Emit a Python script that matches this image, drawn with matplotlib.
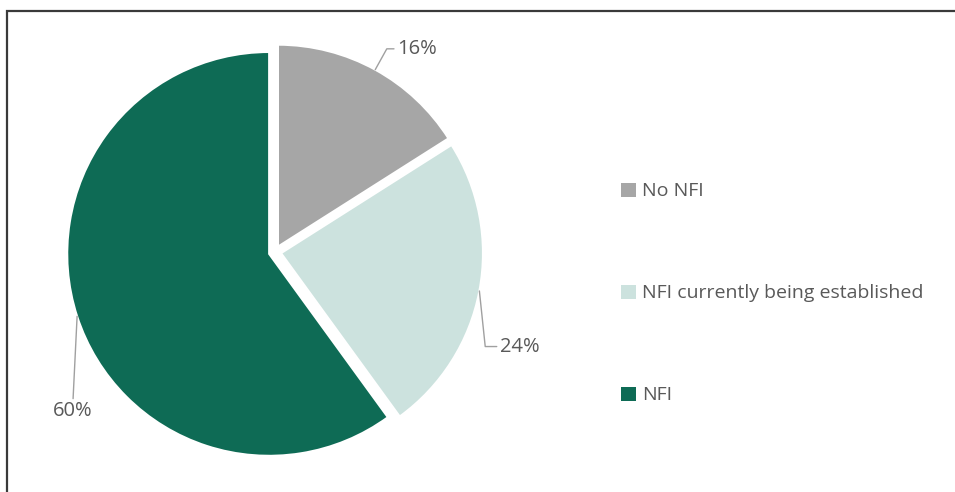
import numpy as np
import matplotlib
matplotlib.use('Agg')
import matplotlib.pyplot as plt
from matplotlib.patches import Rectangle

# Dados
categorias = ['No NFI', 'NFI currently being established', 'NFI']
valores = [16, 24, 60]
rotulos = ['16%', '24%', '60%']
cores = ['#a6a6a6', '#cce2de', '#0e6b55']

plt.rcParams['font.family'] = ['Open Sans', 'DejaVu Sans']
cor_texto = '#595959'

fig = plt.figure(figsize=(9.55, 4.92), dpi=100)
fig.patch.set_facecolor('white')

# borda (so topo e esquerda)
fig.patches.append(Rectangle((7 / 955, -0.1), 1.2, 0.1 + 1 - 11 / 492, transform=fig.transFigure,
                             fill=False, edgecolor='#3a3a3a', linewidth=1.6, zorder=0))

# eixo da pizza: 492 px de lado, 2.4 unidades -> 205 px por unidade
ax = fig.add_axes([(275 - 246) / 955, (240 - 246) / 492, 492 / 955, 1.0])

raio = 0.985
explode = [0.03, 0.03, 0.03]
wedges, _ = ax.pie(valores, colors=cores, startangle=90, counterclock=False, explode=explode,
                   radius=raio, wedgeprops=dict(edgecolor='white', linewidth=1.5))
# pie() redefine os limites, entao ajusta depois
ax.set_xlim(-1.2, 1.2)
ax.set_ylim(-1.2, 1.2)
ax.set_aspect('equal')
ax.axis('off')

# rotulos com linhas de chamada
offsets = [(15.5, 15), (14.5, -40), (-3, -68.5)]
alinh = ['left', 'left', 'center']
conexoes = ['angle,angleA=180,angleB=61,rad=0', 'angle,angleA=180,angleB=96,rad=0', 'arc3']
relpos = [(0, 0.5), (0, 0.5), (0.5, 1)]
for w, rot, off, ha, con, rp, ex in zip(wedges, rotulos, offsets, alinh, conexoes, relpos, explode):
    ang = np.deg2rad((w.theta1 + w.theta2) / 2)
    r = raio + ex
    xy = (r * np.cos(ang), r * np.sin(ang))
    ax.annotate(rot, xy=xy, xytext=off, textcoords='offset points', ha=ha, va='center',
                fontsize=14.5, color=cor_texto,
                arrowprops=dict(arrowstyle='-', color='#a0a0a0', lw=1.0, connectionstyle=con,
                                relpos=rp, shrinkA=0, shrinkB=0))

leg = fig.legend(wedges, categorias, loc='center left', bbox_to_anchor=(621 / 955, 1 - 293.5 / 492),
                 bbox_transform=fig.transFigure, frameon=False, fontsize=14, labelcolor=cor_texto,
                 handlelength=0.77, handleheight=0.75, handletextpad=0.3, labelspacing=4.32,
                 borderpad=0, borderaxespad=0)
for h in leg.legend_handles:
    h.set_edgecolor('none')

plt.savefig('out.png', dpi=100)
